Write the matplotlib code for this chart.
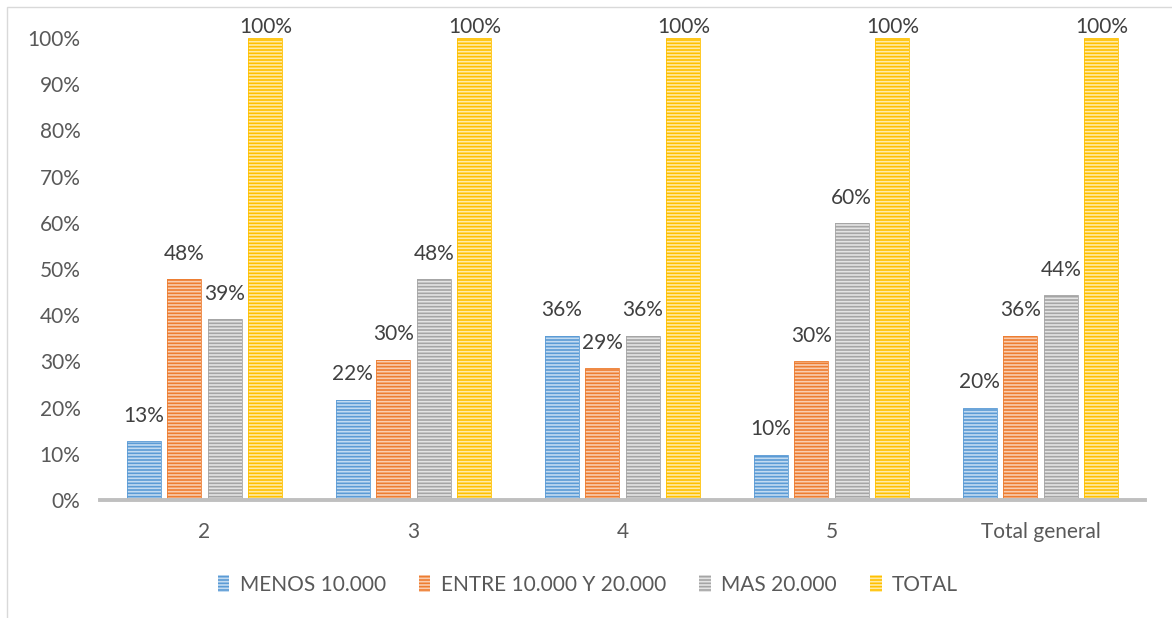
import matplotlib
matplotlib.use('Agg')
import matplotlib.pyplot as plt
import numpy as np
from matplotlib.patches import Rectangle
from matplotlib.ticker import PercentFormatter

plt.rcParams['font.family'] = ['Lato', 'DejaVu Sans']
plt.rcParams['hatch.linewidth'] = 1.2

categories = ['2', '3', '4', '5', 'Total general']
series = ['MENOS 10.000', 'ENTRE 10.000 Y 20.000', 'MAS 20.000', 'TOTAL']
menos = [12.8, 21.7, 35.6, 9.8, 20.0]
entre = [47.8, 30.4, 28.6, 30.0, 35.6]
mas = [39.1, 47.8, 35.6, 60.0, 44.4]
total = [100, 100, 100, 100, 100]
values = [menos, entre, mas, total]

colors = ['#5B9BD5', '#ED7D31', '#A5A5A5', '#FFC000']
stripes = ['#C3DBF1', '#F9CDB0', '#E4E4E4', '#FFEBA8']

fig = plt.figure(figsize=(11.72, 6.18), dpi=100)
ax = fig.add_axes([100/1172, 118/618, 1045/1172, 462/618])

x = np.arange(len(categories))
step = 0.194
width = 0.163
txt = '#595959'

for i, (name, vals) in enumerate(zip(series, values)):
    pos = x + (i - 1.5) * step
    ax.bar(pos, vals, width, color=colors[i], edgecolor=stripes[i],
           linewidth=0, hatch='-----', label=name)
    ax.bar(pos, vals, width, fill=False, edgecolor=colors[i], linewidth=0.6)
    for p, v in zip(pos, vals):
        off = 1 if v >= 99 else 11
        ax.annotate(f'{round(v)}%', (p, v), xytext=(0, off),
                    textcoords='offset points', ha='center', va='bottom',
                    fontsize=15, color='#404040')

ax.set_xlim(-0.5, len(categories) - 0.5)
ax.set_ylim(0, 100)
ax.set_yticks(np.arange(0, 101, 10))
ax.yaxis.set_major_formatter(PercentFormatter(decimals=0))
ax.set_xticks(x)
ax.set_xticklabels(categories)
ax.tick_params(axis='both', length=0, labelsize=15, colors=txt)
ax.tick_params(axis='x', pad=16)
ax.tick_params(axis='y', pad=14)

for s in ['top', 'right', 'left']:
    ax.spines[s].set_visible(False)
ax.spines['bottom'].set_color('#BFBFBF')
ax.spines['bottom'].set_linewidth(2.8)

leg = fig.legend(loc='center', bbox_to_anchor=(588/1172, 1 - 585/618), ncol=4,
                 frameon=False, fontsize=15, handlelength=0.55, handleheight=0.9,
                 handletextpad=0.5, columnspacing=1.6)
for t in leg.get_texts():
    t.set_color(txt)

fig.patches.append(Rectangle((7/1172, -0.1), 1.2, 1 - 7/618 + 0.1,
                             transform=fig.transFigure, fill=False,
                             edgecolor='#D9D9D9', linewidth=1))

fig.savefig('out.png', dpi=100)
